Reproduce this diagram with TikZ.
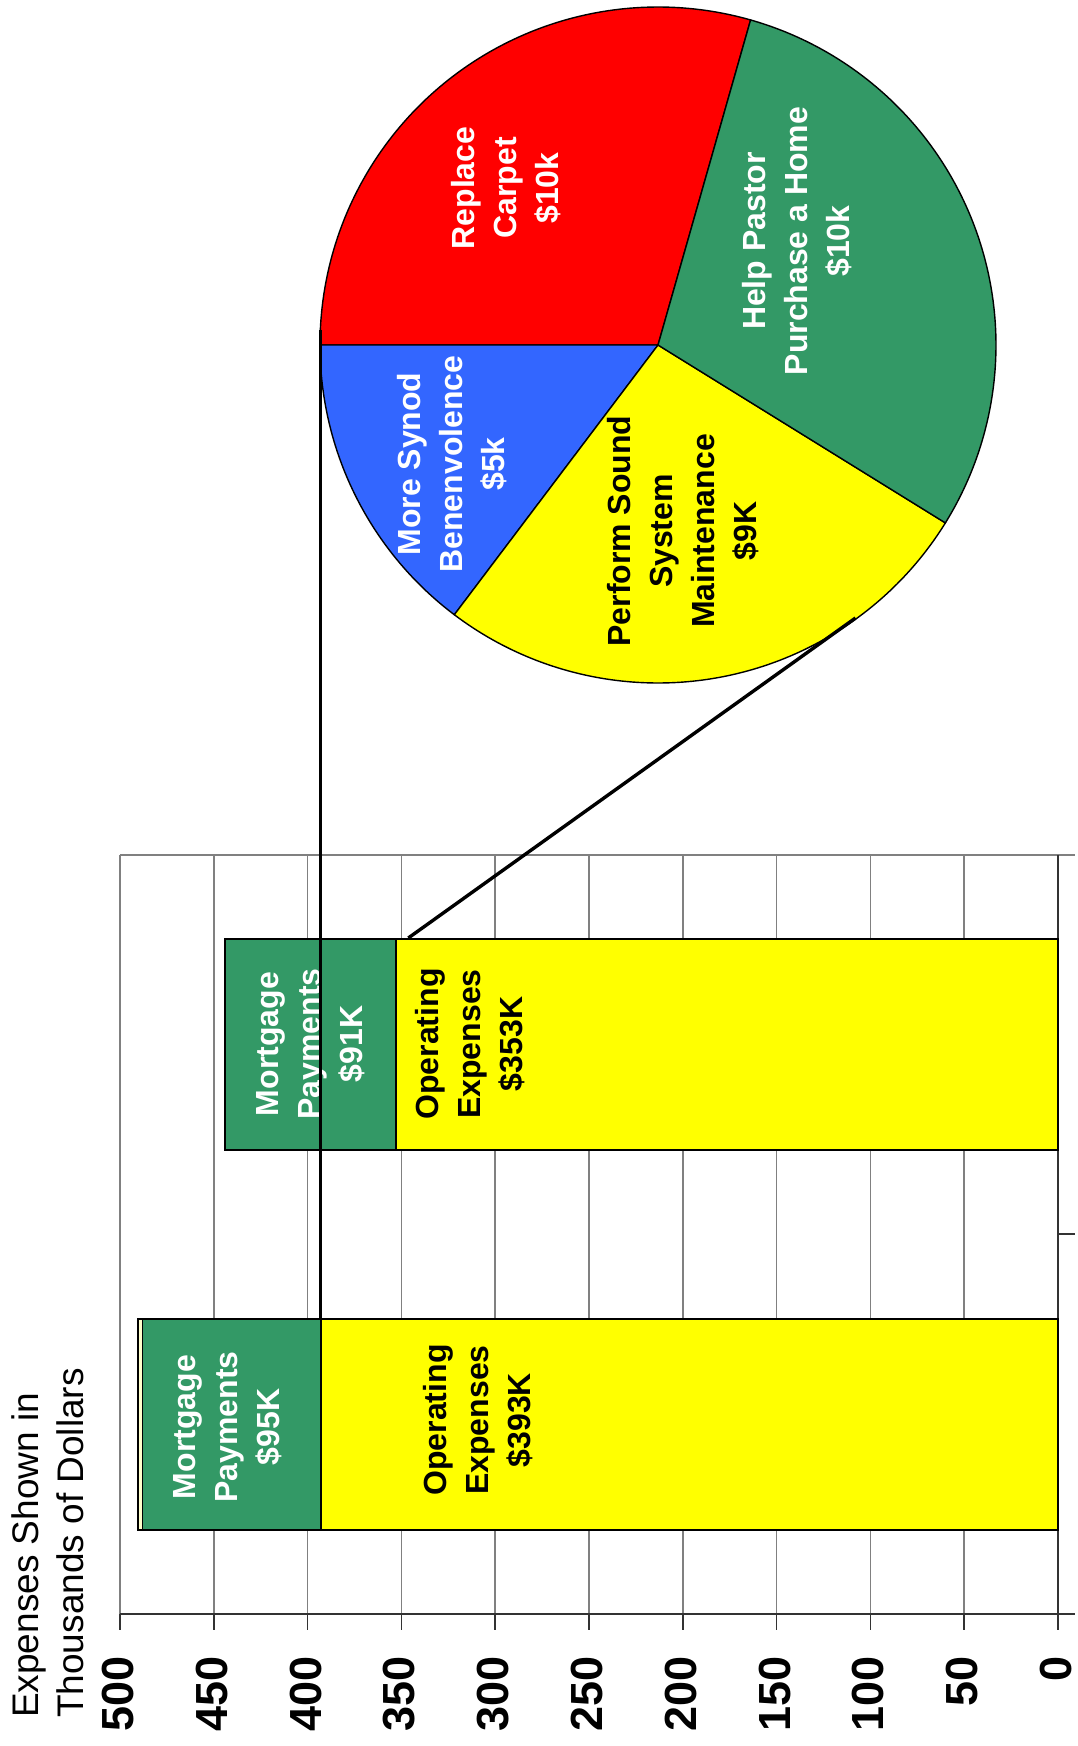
\documentclass[tikz,border=0pt]{standalone}
\usepackage{fontspec}
\setmainfont{Liberation Sans}
\definecolor{barGreen}{RGB}{51,153,102}
\definecolor{barYellow}{RGB}{255,255,0}
\definecolor{pieRed}{RGB}{255,0,0}
\definecolor{pieBlue}{RGB}{51,102,255}
\definecolor{stripCream}{RGB}{255,255,204}
\definecolor{gridGrey}{RGB}{128,128,128}

\begin{document}
\begin{tikzpicture}[x=1pt, y=-1pt,
    grid/.style={draw=gridGrey, line width=1.6pt},
    axis/.style={draw=black!80, line width=1.6pt},
    bar/.style={draw=black, line width=1.8pt},
    slice/.style={draw=black, line width=1.4pt},
    link/.style={draw=black, line width=3.4pt},
    lbl/.style={rotate=90, align=center, inner sep=0pt,
        font=\fontsize{32}{42}\selectfont\bfseries},
    lblW/.style={lbl, text=white},
    ticklbl/.style={rotate=90, anchor=east, inner sep=0pt,
        font=\fontsize{45}{50}\selectfont\bfseries},
    axtitle/.style={rotate=90, align=left, inner sep=0pt,
        font=\fontsize{37}{45}\selectfont}
]
    \useasboundingbox (0,0) rectangle (1077,1746);

    \foreach \v in {0,50,...,500} {
        \draw[grid] ({1058-1.876*\v}, 855) -- ({1058-1.876*\v}, 1614);
        \draw[axis] ({1058-1.876*\v}, 1614) -- ({1058-1.876*\v}, 1630);
        \node[ticklbl] (tick\v) at ({1056-1.876*\v}, 1656) {\v};
    }
    \draw[grid] (120, 855) -- (1075, 855);
    \draw[axis] (120, 1614) -- (1075, 1614);
    \draw[axis] (1058, 855) -- (1058, 1614);
    \foreach \y in {1234, 1614} {
        \draw[axis] (1058, \y) -- (1075, \y);
    }

    \node[axtitle, anchor=west] (ytitle) at (48, 1718)
        {Expenses Shown in\\Thousands of Dollars};

    % last year
    \filldraw[bar, fill=stripCream] (137.8, 1319) rectangle (142.5, 1530);
    \filldraw[bar, fill=barGreen] (142.5, 1319) rectangle (320.7, 1530);
    \filldraw[bar, fill=barYellow] (320.7, 1319) rectangle (1058, 1530);
    \node[lblW] (mortA) at (228, 1427) {Mortgage\\Payments\\\$95K};
    \node[lbl] (operA) at (478, 1420) {Operating\\Expenses\\\$393K};

    % this year
    \filldraw[bar, fill=barGreen] (225.1, 939) rectangle (395.8, 1150);
    \filldraw[bar, fill=barYellow] (395.8, 939) rectangle (1058, 1150);
    \node[lblW] (mortB) at (311, 1044) {Mortgage\\Payments\\\$91K};
    \node[lbl] (operB) at (470, 1044) {Operating\\Expenses\\\$353K};

    % pie of the saving
    \coordinate (pieC) at (658, 345);
    \filldraw[slice, fill=pieRed] (pieC) -- ++(-74.1:338)
        arc[start angle=-74.1, end angle=-180, radius=338] -- cycle;
    \filldraw[slice, fill=pieBlue] (pieC) -- ++(-180:338)
        arc[start angle=-180, end angle=-232.94, radius=338] -- cycle;
    \filldraw[slice, fill=barYellow] (pieC) -- ++(-232.94:338)
        arc[start angle=-232.94, end angle=-328.24, radius=338] -- cycle;
    \filldraw[slice, fill=barGreen] (pieC) -- ++(-328.24:338)
        arc[start angle=-328.24, end angle=-434.1, radius=338] -- cycle;

    \node[lblW] (carpet) at (506, 188) {Replace\\Carpet\\\$10k};
    \node[lblW] (pastor) at (797, 241) {Help Pastor\\Purchase a Home\\\$10k};
    \node[lblW] (synod) at (452, 464) {More Synod\\Benenvolence\\\$5k};
    \node[lbl] (sound) at (683, 531)
        {Perform Sound\\System\\Maintenance\\\$9K};

    \coordinate (pieW) at (320.5, 330);
    \coordinate (pieS) at (855.5, 618);
    \coordinate (barA) at (320.5, 1319);
    \coordinate (barB) at (408.3, 938);
    \draw[link] (pieW) -- (barA);
    \draw[link] (pieS) -- (barB);
\end{tikzpicture}
\end{document}
